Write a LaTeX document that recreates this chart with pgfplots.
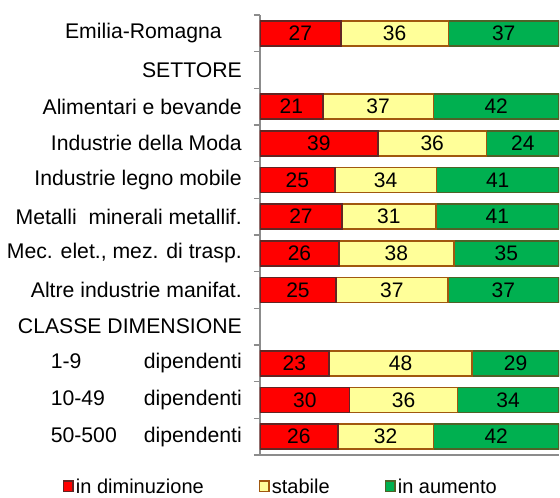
\documentclass[border=0pt]{standalone}
\usepackage{pgfplots}
\usepackage{pgfplotstable}
\pgfplotsset{compat=1.18}
\usepackage{fontspec}
\setmainfont{Liberation Sans}
\definecolor{rfill}{HTML}{FF0000}
\definecolor{rdraw}{HTML}{632523}
\definecolor{yfill}{HTML}{FFFF99}
\definecolor{ydraw}{HTML}{A0580F}
\definecolor{gfill}{HTML}{00B050}
\definecolor{gdraw}{HTML}{4F6228}
\definecolor{axgray}{HTML}{8C8C8C}
\pgfplotstableread{
pos dim dimlab sta stalab aum aumlab
11 27 27 36 36 37 37
9 21 21 37 37 42 42
8 39.4 39 36.4 36 24.2 24
7 25 25 34 34 41 41
6 27.4 27 31.4 31 41.2 41
5 26.4 26 38.4 38 35.2 35
4 25.4 25 37.4 37 37.2 37
2 23 23 48 48 29 29
1 30 30 36 36 34 34
0 26 26 32 32 42 42
}\data
\pgfplotsset{
  common/.style={
    at={(260pt,43pt)}, anchor=south west,
    scale only axis, width=299pt, height=440pt,
    xmin=0, xmax=100, ymin=-0.5, ymax=11.5,
  }
}
\begin{document}
\begin{tikzpicture}
\useasboundingbox (0,0) rectangle (560pt,498pt);
\begin{axis}[
  common,
  xbar stacked, bar width=25pt,
  axis x line*=bottom, axis y line*=left,
  axis line style={draw=axgray, line width=1.3pt},
  xtick=\empty, minor xtick={0,50,100},
  ytick={0,...,11},
  yticklabels={
    \makebox[191pt]{50-500\hfill dipendenti},
    \makebox[191pt]{10-49\hfill dipendenti},
    \makebox[191pt]{1-9\hfill dipendenti},
    CLASSE DIMENSIONE,
    Altre industrie manifat.,
    {Mec. elet., mez. di trasp.},
    Metalli\ \ minerali metallif.,
    Industrie legno mobile,
    Industrie della Moda,
    Alimentari e bevande,
    SETTORE,
    Emilia-Romagna\hspace{20pt}\mbox{}},
  minor ytick={-0.5,0.5,...,11.5},
  major tick length=0pt, minor tick length=6pt, tick align=outside,
  tick style={draw=axgray, line width=1.3pt},
  yticklabel style={font=\fontsize{21.2}{24}\selectfont, inner sep=0pt, xshift=-18pt},
  legend style={at={(axis description cs:-0.66,-0.072)}, anchor=west, draw=none, fill=none,
    legend columns=3, font=\fontsize{20}{24}\selectfont,
    /tikz/every even column/.append style={column sep=53pt}, inner sep=0pt},
  legend image code/.code={\draw[#1, line width=1.6pt] (0pt,-5pt) rectangle (9.5pt,5.5pt);},
]
\addplot[fill=rfill, draw=rdraw, line width=1.6pt] table[x=dim, y=pos] {\data};
\addlegendentry{in diminuzione}
\addplot[fill=yfill, draw=ydraw, line width=1.6pt] table[x=sta, y=pos] {\data};
\addlegendentry{stabile}
\addplot[fill=gfill, draw=gdraw, line width=1.6pt] table[x=aum, y=pos] {\data};
\addlegendentry{in aumento}
\end{axis}
\begin{axis}[
  common, axis lines=none, ticks=none,
  /pgf/number format/assume math mode=true,
  point meta=explicit,
  nodes near coords={\pgfmathprintnumber{\pgfplotspointmeta}},
  every node near coord/.append style={anchor=center, inner sep=0pt, font=\fontsize{21}{24}\selectfont, text=black},
]
\addplot[draw=none, mark=none, nodes near coords] table[x expr=\thisrow{dim}/2, y=pos, meta=dimlab] {\data};
\addplot[draw=none, mark=none, nodes near coords] table[x expr=\thisrow{dim}+\thisrow{sta}/2, y=pos, meta=stalab] {\data};
\addplot[draw=none, mark=none, nodes near coords] table[x expr=\thisrow{dim}+\thisrow{sta}+\thisrow{aum}/2, y=pos, meta=aumlab] {\data};
\end{axis}
\end{tikzpicture}
\end{document}
